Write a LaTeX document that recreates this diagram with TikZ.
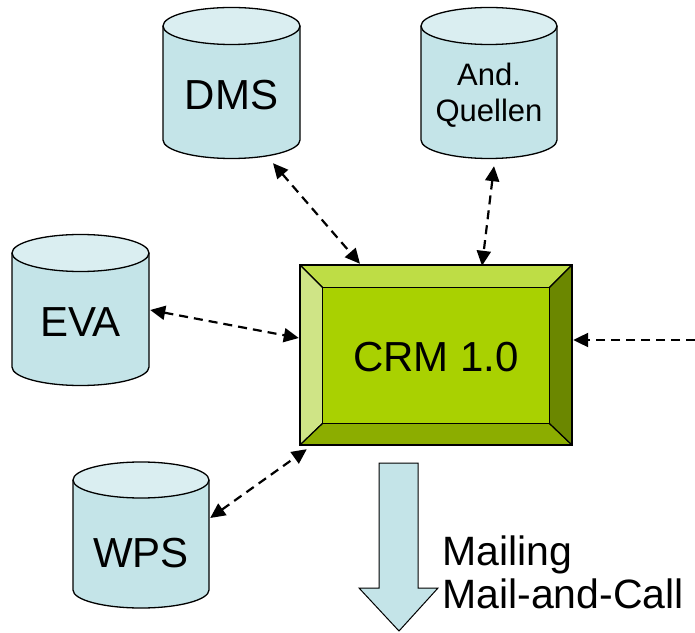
\documentclass[tikz,border=0pt]{standalone}
\usepackage{fontspec}
\setmainfont{Liberation Sans}
\usetikzlibrary{arrows.meta,calc}
\definecolor{cylbody}{HTML}{C4E4E8}
\definecolor{cyltop}{HTML}{DAEEF1}
\definecolor{crmface}{HTML}{A9D101}
\definecolor{crmtop}{HTML}{BEDD45}
\definecolor{crmleft}{HTML}{CFE486}
\definecolor{crmbottom}{HTML}{8CAD00}
\definecolor{crmright}{HTML}{6B8700}
\newcommand\dbcyl[6]{% L, R, rx, Ytop, Ybot, ry
  \filldraw[fill=cylbody,draw=black,line width=1.3pt] (#1,#4) -- (#1,#5) arc[start angle=180,end angle=360,x radius=#3,y radius=#6] -- (#2,#4);
  \filldraw[fill=cyltop,draw=black,line width=1.3pt] ($(#1,#4)!0.5!(#2,#4)$) ellipse[x radius=#3,y radius=#6];
}
\begin{document}
\begin{tikzpicture}[x=1pt,y=1pt,
  conn/.style={line width=2.2pt, dash pattern=on 9pt off 6pt,
    {Triangle[length=15pt,width=14pt]}-{Triangle[length=15pt,width=14pt]}},
  connone/.style={line width=2.2pt, dash pattern=on 9pt off 6pt,
    -{Triangle[length=15pt,width=14pt]}},
  area/.style={inner sep=0pt, draw=none},
  bigtext/.style={inner sep=0pt, font=\fontsize{42}{46}\selectfont},
  smalltext/.style={inner sep=0pt, font=\fontsize{31}{36}\selectfont},
  bevel/.style={draw=black, line width=1.2pt, line join=round}]
\useasboundingbox (0,0) rectangle (695,632);

% cylinders
\dbcyl{163}{300}{68.5}{606}{492}{18.5}
\node[area, minimum width=137, minimum height=151] (dms) at (231.5,549.5) {};
\node[bigtext, anchor=base] (dmslabel) at (231.5,522) {DMS};

\dbcyl{421}{557}{68}{606}{492}{18.5}
\node[area, minimum width=136, minimum height=151] (qu) at (489,549.5) {};
\node[smalltext, anchor=base] (qulabel1) at (489,546) {And.};
\node[smalltext, anchor=base] (qulabel2) at (489,510) {Quellen};

\dbcyl{12}{149}{68.5}{379}{265}{18.5}
\node[area, minimum width=137, minimum height=151] (eva) at (80.5,322) {};
\node[bigtext, anchor=base] (evalabel) at (80.5,295) {EVA};

\dbcyl{73}{209}{68}{152}{42}{18}
\node[area, minimum width=136, minimum height=146] (wps) at (141,97) {};
\node[bigtext, anchor=base] (wpslabel) at (141,65) {WPS};

% CRM box
\node[area, minimum width=272, minimum height=180] (crm) at (436,277) {};
\coordinate (i1) at ($(crm.north west)+(23,-23)$);
\coordinate (i2) at ($(crm.north east)+(-23,-23)$);
\coordinate (i3) at ($(crm.south east)+(-23,22)$);
\coordinate (i4) at ($(crm.south west)+(23,22)$);
\filldraw[bevel, fill=crmtop] (crm.north west) -- (crm.north east) -- (i2) -- (i1) -- cycle;
\filldraw[bevel, fill=crmleft] (crm.north west) -- (i1) -- (i4) -- (crm.south west) -- cycle;
\filldraw[bevel, fill=crmbottom] (crm.south west) -- (i4) -- (i3) -- (crm.south east) -- cycle;
\filldraw[bevel, fill=crmright] (crm.north east) -- (crm.south east) -- (i3) -- (i2) -- cycle;
\filldraw[bevel, fill=crmface] (i1) -- (i2) -- (i3) -- (i4) -- cycle;
\draw[line width=1.8pt] (crm.north west) rectangle (crm.south east);
\node[bigtext] (crmlabel) at (436,275) {CRM 1.0};

% connectors
\draw[conn] ($(dms.south)+(41.5,-5)$) -- ($(crm.north)+(-76,1)$);
\draw[conn] ($(qu.south)+(5,-8)$) -- ($(crm.north)+(46,-1)$);
\draw[conn] ($(eva.east)+(1,0)$) -- ($(crm.west)+(-1,17)$);
\draw[conn] ($(wps.east)+(1,17)$) -- ($(crm.south west)+(7,-4)$);
\coordinate (ext) at (695,292);
\draw[connone] (ext) -- ($(crm.east)+(1,15)$);

% output arrow
\filldraw[fill=cylbody, draw=black, line width=1pt, line join=miter]
  (379,169) -- (418,169) -- (418,44) -- (438,44) -- (399,1) -- (359,44) -- (379,44) -- cycle;
\node[inner sep=0pt, anchor=base west, font=\fontsize{41}{45}\selectfont] (mail1) at (442,67) {Mailing};
\node[inner sep=0pt, anchor=base west, font=\fontsize{41}{45}\selectfont] (mail2) at (442,24) {Mail-and-Call};
\end{tikzpicture}
\end{document}
